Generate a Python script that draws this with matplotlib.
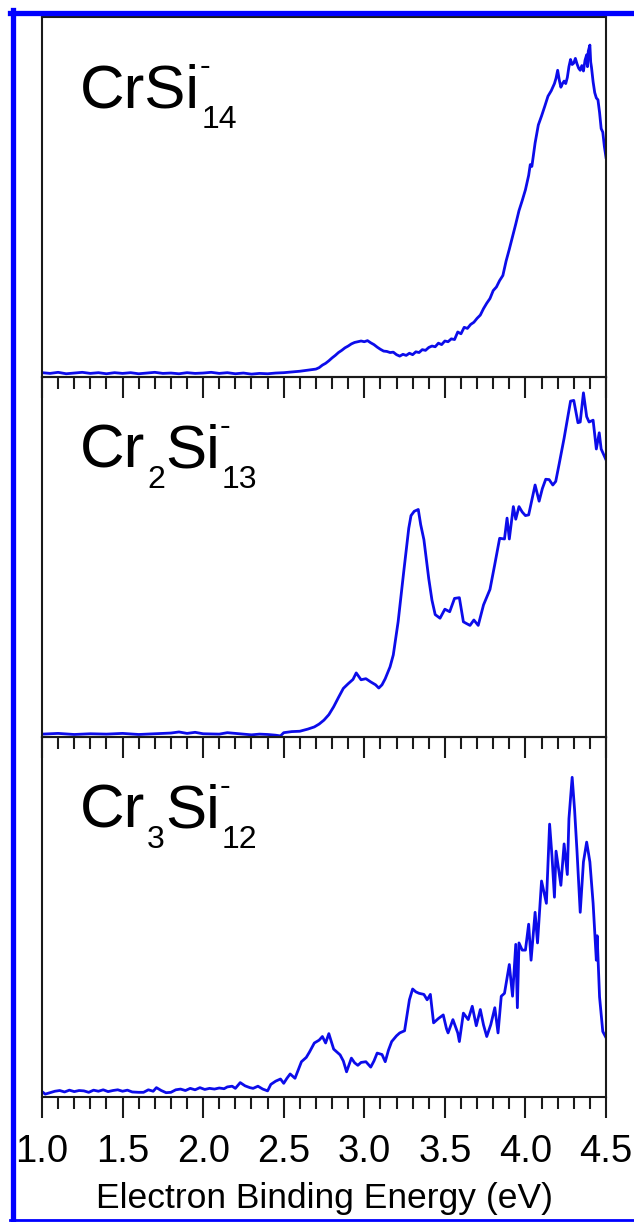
import matplotlib
matplotlib.use('Agg')
import matplotlib.pyplot as plt
from matplotlib.ticker import MultipleLocator, FormatStrFormatter
from matplotlib.transforms import IdentityTransform
from matplotlib.lines import Line2D

plt.rcParams['font.family'] = ['Liberation Sans', 'DejaVu Sans']

# --- CrSi14- spectrum (intensity, arb. units) ---
e_crsi14 = [1.00, 1.05, 1.10, 1.15, 1.20, 1.25, 1.30, 1.35, 1.40, 1.45, 1.50, 1.55,
            1.60, 1.65, 1.70, 1.75, 1.80, 1.85, 1.90, 1.95, 2.00, 2.05, 2.10, 2.15,
            2.20, 2.25, 2.30, 2.35, 2.40, 2.45, 2.50, 2.55, 2.60, 2.65,
            2.70, 2.72, 2.74, 2.76, 2.78, 2.80, 2.82, 2.84, 2.86, 2.88, 2.90, 2.92,
            2.94, 2.96, 2.98, 3.00, 3.02, 3.04, 3.06, 3.08, 3.10, 3.12, 3.14, 3.16,
            3.18, 3.20, 3.22, 3.24, 3.26, 3.28, 3.30, 3.32, 3.34, 3.36, 3.38, 3.40,
            3.42, 3.44, 3.46, 3.48, 3.50, 3.52, 3.54, 3.56, 3.58, 3.60, 3.62, 3.64,
            3.66, 3.68, 3.70, 3.72, 3.74, 3.76, 3.78, 3.80, 3.82, 3.84, 3.86, 3.88,
            3.90, 3.92, 3.94, 3.96, 3.98, 4.00, 4.02, 4.03, 4.04, 4.06, 4.08, 4.10,
            4.12, 4.14, 4.16, 4.18, 4.19, 4.20, 4.21, 4.22, 4.23, 4.24, 4.25, 4.26,
            4.27, 4.28, 4.29, 4.30, 4.31, 4.32, 4.33, 4.34, 4.35, 4.36, 4.37, 4.38,
            4.385, 4.39, 4.40, 4.405, 4.41, 4.42, 4.43, 4.44, 4.45, 4.46, 4.47, 4.48,
            4.49, 4.50]
i_crsi14 = [0.012, 0.010, 0.013, 0.009, 0.011, 0.013, 0.010, 0.012, 0.009, 0.012, 0.010, 0.012,
            0.009, 0.011, 0.013, 0.010, 0.011, 0.009, 0.012, 0.010, 0.011, 0.013, 0.010, 0.012,
            0.009, 0.011, 0.008, 0.010, 0.009, 0.011, 0.012, 0.014, 0.016, 0.019,
            0.022, 0.026, 0.033, 0.038, 0.045, 0.053, 0.060, 0.068, 0.074, 0.081, 0.086, 0.092,
            0.096, 0.098, 0.100, 0.098, 0.101, 0.095, 0.090, 0.083, 0.077, 0.072, 0.071, 0.068,
            0.069, 0.062, 0.058, 0.063, 0.060, 0.066, 0.062, 0.070, 0.068, 0.076, 0.074, 0.082,
            0.086, 0.084, 0.094, 0.090, 0.100, 0.098, 0.106, 0.104, 0.125, 0.120, 0.138, 0.135,
            0.146, 0.152, 0.163, 0.172, 0.190, 0.205, 0.218, 0.240, 0.250, 0.268, 0.282, 0.322,
            0.355, 0.390, 0.425, 0.462, 0.490, 0.520, 0.560, 0.590, 0.585, 0.650, 0.700, 0.725,
            0.752, 0.780, 0.795, 0.815, 0.830, 0.852, 0.825, 0.805, 0.815, 0.822, 0.815, 0.832,
            0.862, 0.882, 0.868, 0.872, 0.885, 0.870, 0.858, 0.852, 0.865, 0.850, 0.880, 0.895,
            0.862, 0.905, 0.922, 0.875, 0.860, 0.820, 0.790, 0.775, 0.770, 0.735, 0.690, 0.680,
            0.640, 0.610]

# --- Cr2Si13- spectrum ---
e_cr2si13 = [1.00, 1.10, 1.20, 1.30, 1.40, 1.50, 1.60, 1.70, 1.80, 1.85, 1.90, 1.95,
             2.00, 2.10, 2.15, 2.20, 2.25, 2.30, 2.35, 2.40, 2.45, 2.48, 2.50, 2.55,
             2.60, 2.65, 2.69, 2.72, 2.75, 2.78, 2.81, 2.84, 2.87, 2.90, 2.93, 2.95,
             2.98, 3.01, 3.04, 3.07, 3.09, 3.11, 3.13, 3.16, 3.18, 3.21, 3.245, 3.276,
             3.29, 3.31, 3.335, 3.35, 3.37, 3.40, 3.42, 3.44, 3.47, 3.50, 3.53, 3.56,
             3.59, 3.615, 3.635, 3.656, 3.68, 3.707, 3.74, 3.78, 3.81, 3.84, 3.87, 3.886,
             3.90, 3.925, 3.94, 3.96, 3.98, 4.00, 4.02, 4.06, 4.085, 4.105, 4.126, 4.147,
             4.17, 4.188, 4.21, 4.24, 4.28, 4.30, 4.326, 4.34, 4.36, 4.38, 4.395, 4.42,
             4.44, 4.458, 4.47, 4.49, 4.50]
i_cr2si13 = [0.008, 0.010, 0.007, 0.009, 0.008, 0.010, 0.007, 0.009, 0.011, 0.014, 0.010, 0.013,
             0.009, 0.008, 0.012, 0.010, 0.008, 0.006, 0.008, 0.007, 0.005, 0.003, 0.012, 0.015,
             0.016, 0.022, 0.028, 0.036, 0.047, 0.062, 0.084, 0.110, 0.135, 0.148, 0.160, 0.178,
             0.159, 0.162, 0.153, 0.145, 0.136, 0.145, 0.162, 0.195, 0.228, 0.320, 0.460, 0.580,
             0.615, 0.627, 0.632, 0.590, 0.548, 0.440, 0.380, 0.340, 0.330, 0.355, 0.348, 0.385,
             0.387, 0.320, 0.315, 0.310, 0.325, 0.310, 0.367, 0.410, 0.480, 0.552, 0.550, 0.608,
             0.550, 0.640, 0.605, 0.640, 0.625, 0.615, 0.617, 0.700, 0.655, 0.690, 0.716, 0.715,
             0.700, 0.710, 0.760, 0.830, 0.933, 0.935, 0.873, 0.875, 0.956, 0.890, 0.875, 0.880,
             0.800, 0.845, 0.800, 0.780, 0.770]

# --- Cr3Si12- spectrum ---
e_cr3si12 = [1.00, 1.02, 1.05, 1.08, 1.11, 1.14, 1.17, 1.20, 1.23, 1.26, 1.29, 1.32,
             1.35, 1.38, 1.41, 1.44, 1.47, 1.50, 1.53, 1.56, 1.60, 1.63, 1.66, 1.69,
             1.71, 1.74, 1.77, 1.80, 1.83, 1.86, 1.89, 1.92, 1.95, 1.98, 2.01, 2.04,
             2.07, 2.10, 2.13, 2.15, 2.18, 2.20, 2.23, 2.26, 2.29, 2.31, 2.34, 2.37,
             2.40, 2.42, 2.45, 2.48, 2.50, 2.52, 2.54, 2.57, 2.61, 2.64, 2.66, 2.69,
             2.72, 2.74, 2.76, 2.78, 2.81, 2.85, 2.87, 2.89, 2.92, 2.94, 2.96, 2.98,
             3.01, 3.04, 3.06, 3.08, 3.11, 3.13, 3.15, 3.17, 3.20, 3.22, 3.25, 3.28,
             3.30, 3.32, 3.34, 3.37, 3.39, 3.41, 3.43, 3.46, 3.49, 3.51, 3.52, 3.55,
             3.58, 3.59, 3.615, 3.645, 3.67, 3.695, 3.72, 3.74, 3.76, 3.785, 3.81, 3.83,
             3.85, 3.87, 3.90, 3.92, 3.94, 3.95, 3.96, 3.98, 4.00, 4.02, 4.035, 4.06,
             4.075, 4.10, 4.13, 4.15, 4.165, 4.18, 4.19, 4.22, 4.24, 4.26, 4.27, 4.29,
             4.305, 4.32, 4.34, 4.36, 4.38, 4.40, 4.42, 4.44, 4.445, 4.46, 4.48, 4.50]
i_cr3si12 = [0.015, 0.008, 0.012, 0.016, 0.018, 0.014, 0.019, 0.015, 0.018, 0.017, 0.013, 0.019,
             0.016, 0.020, 0.015, 0.018, 0.020, 0.016, 0.019, 0.014, 0.013, 0.013, 0.020, 0.016,
             0.026, 0.018, 0.012, 0.013, 0.020, 0.022, 0.018, 0.024, 0.020, 0.026, 0.021, 0.024,
             0.022, 0.025, 0.023, 0.028, 0.030, 0.024, 0.040, 0.031, 0.026, 0.024, 0.030, 0.022,
             0.017, 0.035, 0.044, 0.050, 0.038, 0.052, 0.064, 0.052, 0.098, 0.110, 0.125, 0.150,
             0.158, 0.168, 0.150, 0.176, 0.133, 0.117, 0.100, 0.070, 0.108, 0.095, 0.088, 0.096,
             0.098, 0.083, 0.100, 0.122, 0.118, 0.098, 0.130, 0.154, 0.170, 0.178, 0.184, 0.270,
             0.300, 0.292, 0.288, 0.285, 0.270, 0.285, 0.206, 0.218, 0.228, 0.190, 0.178, 0.215,
             0.178, 0.154, 0.233, 0.215, 0.252, 0.198, 0.243, 0.200, 0.168, 0.201, 0.248, 0.178,
             0.280, 0.288, 0.368, 0.280, 0.424, 0.248, 0.428, 0.408, 0.408, 0.480, 0.380, 0.513,
             0.428, 0.600, 0.538, 0.758, 0.668, 0.555, 0.683, 0.588, 0.703, 0.618, 0.773, 0.888,
             0.798, 0.683, 0.513, 0.653, 0.708, 0.653, 0.538, 0.380, 0.448, 0.278, 0.182, 0.165]

# label pieces: (text, kind)
labels = [
    [('CrSi', 'main'), ('-', 'sup'), ('14', 'sub')],
    [('Cr', 'main'), ('2', 'sub'), ('Si', 'main'), ('-', 'sup'), ('13', 'sub')],
    [('Cr', 'main'), ('3', 'sub'), ('Si', 'main'), ('-', 'sup'), ('12', 'sub')],
]
energies = [e_crsi14, e_cr2si13, e_cr3si12]
intens = [i_crsi14, i_cr2si13, i_cr3si12]

W, H = 634, 1222
fig = plt.figure(figsize=(W / 100, H / 100), dpi=100)
fig.patch.set_facecolor('white')

line_col = '#0c0cea'
ax_left, ax_right = 42, 606
panel_h = 360
top0 = 17

axes = []
for k in range(3):
    top_px = top0 + k * panel_h
    bot_px = top_px + panel_h
    ax = fig.add_axes([ax_left / W, 1 - bot_px / H, (ax_right - ax_left) / W, panel_h / H])
    ax.set_facecolor('none')
    ax.plot(energies[k], intens[k], color=line_col, lw=2.0)
    ax.set_xlim(1.0, 4.5)
    ax.set_ylim(0, 1)
    ax.set_yticks([])
    ax.xaxis.set_major_locator(MultipleLocator(0.5))
    ax.xaxis.set_minor_locator(MultipleLocator(0.1))
    ax.xaxis.set_major_formatter(FormatStrFormatter('%.1f'))
    ax.tick_params(axis='x', which='major', direction='out', length=15, width=1.5,
                   color='#1a1a1a', labelsize=27.5, pad=12)
    ax.tick_params(axis='x', which='minor', direction='out', length=8.5, width=1.5,
                   color='#1a1a1a')
    for sp in ax.spines.values():
        sp.set_linewidth(1.5)
        sp.set_color('#1a1a1a')
    if k < 2:
        ax.tick_params(axis='x', which='major', labelbottom=False)
    axes.append(ax)

axes[2].set_xlabel('Electron Binding Energy (eV)', fontsize=25.5, labelpad=8)

# molecule labels built from pieces
renderer = fig.canvas.get_renderer()
for k in range(3):
    x = 80
    y = H - (top0 + k * panel_h + 90)
    for s, kind in labels[k]:
        if kind == 'main':
            t = fig.text(x, y, s, fontsize=44.5, va='baseline', ha='left',
                         transform=IdentityTransform())
            x += t.get_window_extent(renderer).width
        elif kind == 'sub':
            t = fig.text(x + 2, y - 21, s, fontsize=23, va='baseline', ha='left',
                         transform=IdentityTransform())
            x += 2 + t.get_window_extent(renderer).width
        else:
            fig.text(x, y + 32, s, fontsize=23, va='baseline', ha='left',
                     transform=IdentityTransform())

# blue frame round the picture
fig.add_artist(Line2D([13 / W, 13 / W], [0, 1 - 10 / H], transform=fig.transFigure,
                      color='#0000ff', lw=3.8))
fig.add_artist(Line2D([10 / W, 1], [1 - 13 / H, 1 - 13 / H], transform=fig.transFigure,
                      color='#0000ff', lw=3.8))
fig.add_artist(Line2D([10 / W, 1], [2 / H, 2 / H], transform=fig.transFigure,
                      color='#0000ff', lw=2))

fig.savefig('out.png', dpi=100)
